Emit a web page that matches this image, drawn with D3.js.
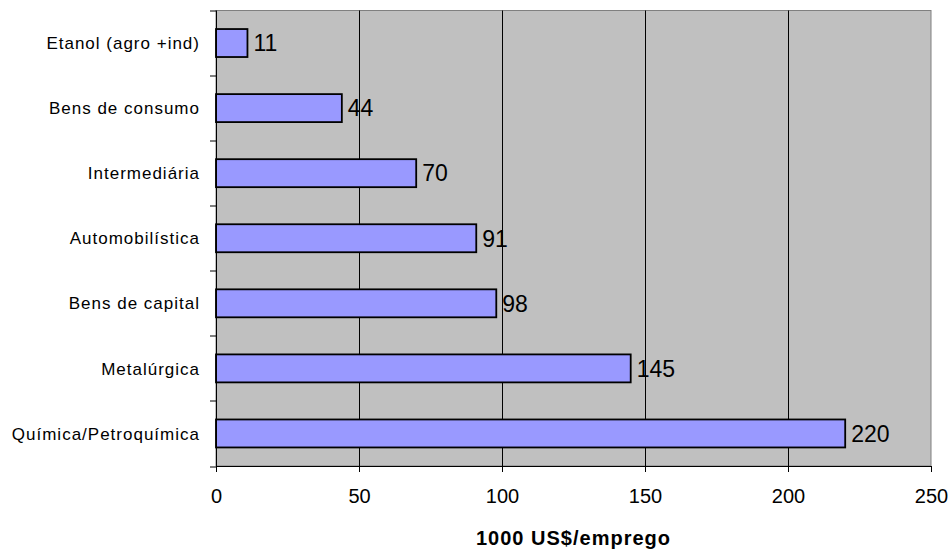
<!DOCTYPE html>
<html lang="pt">
<head>
<meta charset="UTF-8">
<title>1000 US$/emprego</title>
<script src="https://cdn.jsdelivr.net/npm/d3@7/dist/d3.min.js"></script>
<style>
    body { margin: 0; background: #fff; }
    svg text { font-family: "Liberation Sans", Arial, sans-serif; fill: #000; }
</style>
</head>
<body>
<div id="chart"></div>
<script>
    var sectors = ['Etanol (agro +ind)', 'Bens de consumo', 'Intermediária', 'Automobilística',
        'Bens de capital', 'Metalúrgica', 'Química/Petroquímica'];
    var values = [11, 44, 70, 91, 98, 145, 220];
    var xTicks = [0, 50, 100, 150, 200, 250];
    var xTitle = '1000 US$/emprego';

    var W = 952, H = 552;
    var m = {top: 10.5, right: 21, bottom: 86, left: 216};
    var w = W - m.left - m.right, h = H - m.top - m.bottom;

    var svg = d3.select('#chart').append('svg')
        .attr('width', W)
        .attr('height', H);
    var g = svg.append('g').attr('transform', 'translate(' + m.left + ',' + m.top + ')');

    var x = d3.scaleLinear().domain([0, 250]).range([0, w]);
    var y = d3.scaleBand().domain(sectors).range([0, h]).paddingInner(0.57).paddingOuter(0.285);

    // plot area
    g.append('rect')
        .attr('width', w).attr('height', h)
        .attr('fill', '#c0c0c0')
        .attr('stroke', '#808080')
        .attr('stroke-width', 1);

    // gridlines
    g.selectAll('.grid')
        .data(xTicks.filter(d => d > 0 && d < 250))
        .enter().append('line')
        .attr('x1', d => Math.round(x(d)) + 0.5).attr('x2', d => Math.round(x(d)) + 0.5)
        .attr('y1', 0).attr('y2', h)
        .attr('stroke', '#000').attr('stroke-width', 1);

    // bars
    g.selectAll('.bar')
        .data(values)
        .enter().append('rect')
        .attr('x', 0)
        .attr('y', (d, i) => y(sectors[i]))
        .attr('width', d => x(d))
        .attr('height', y.bandwidth())
        .attr('fill', '#9999ff')
        .attr('stroke', '#000')
        .attr('stroke-width', 1.8);

    // value labels
    g.selectAll('.val')
        .data(values)
        .enter().append('text')
        .attr('x', d => x(d) + 6)
        .attr('y', (d, i) => y(sectors[i]) + y.bandwidth() / 2)
        .attr('dy', '0.36em')
        .style('font-size', '23px')
        .text(d => d);

    // x axis
    var xAxis = g.append('g')
        .attr('transform', 'translate(0,' + h + ')')
        .call(d3.axisBottom(x).tickValues(xTicks).tickSize(6).tickPadding(17).tickSizeOuter(0));
    xAxis.select('.domain').attr('stroke', '#000');
    xAxis.selectAll('.tick line').attr('stroke', '#000');
    xAxis.selectAll('text').style('font-size', '20px').attr('fill', '#000');

    // y axis: ticks at category boundaries
    var yAxis = g.append('g');
    yAxis.append('line')
        .attr('x1', 0.5).attr('x2', 0.5).attr('y1', 0).attr('y2', h + 6)
        .attr('stroke', '#000');
    yAxis.selectAll('.yt')
        .data(d3.range(sectors.length + 1))
        .enter().append('line')
        .attr('x1', -6).attr('x2', 0)
        .attr('y1', i => Math.round(i * h / sectors.length) + 0.5)
        .attr('y2', i => Math.round(i * h / sectors.length) + 0.5)
        .attr('stroke', '#000');
    yAxis.selectAll('.ylab')
        .data(sectors)
        .enter().append('text')
        .attr('x', -16)
        .attr('y', d => y(d) + y.bandwidth() / 2)
        .attr('dy', '0.36em')
        .attr('text-anchor', 'end')
        .style('font-size', '17px')
        .style('letter-spacing', '1px')
        .text(d => d);

    // axis title
    svg.append('text')
        .attr('x', m.left + w / 2)
        .attr('y', 545)
        .attr('text-anchor', 'middle')
        .style('font-size', '20px')
        .style('font-weight', 'bold')
        .style('letter-spacing', '1px')
        .text(xTitle);
</script>
</body>
</html>
